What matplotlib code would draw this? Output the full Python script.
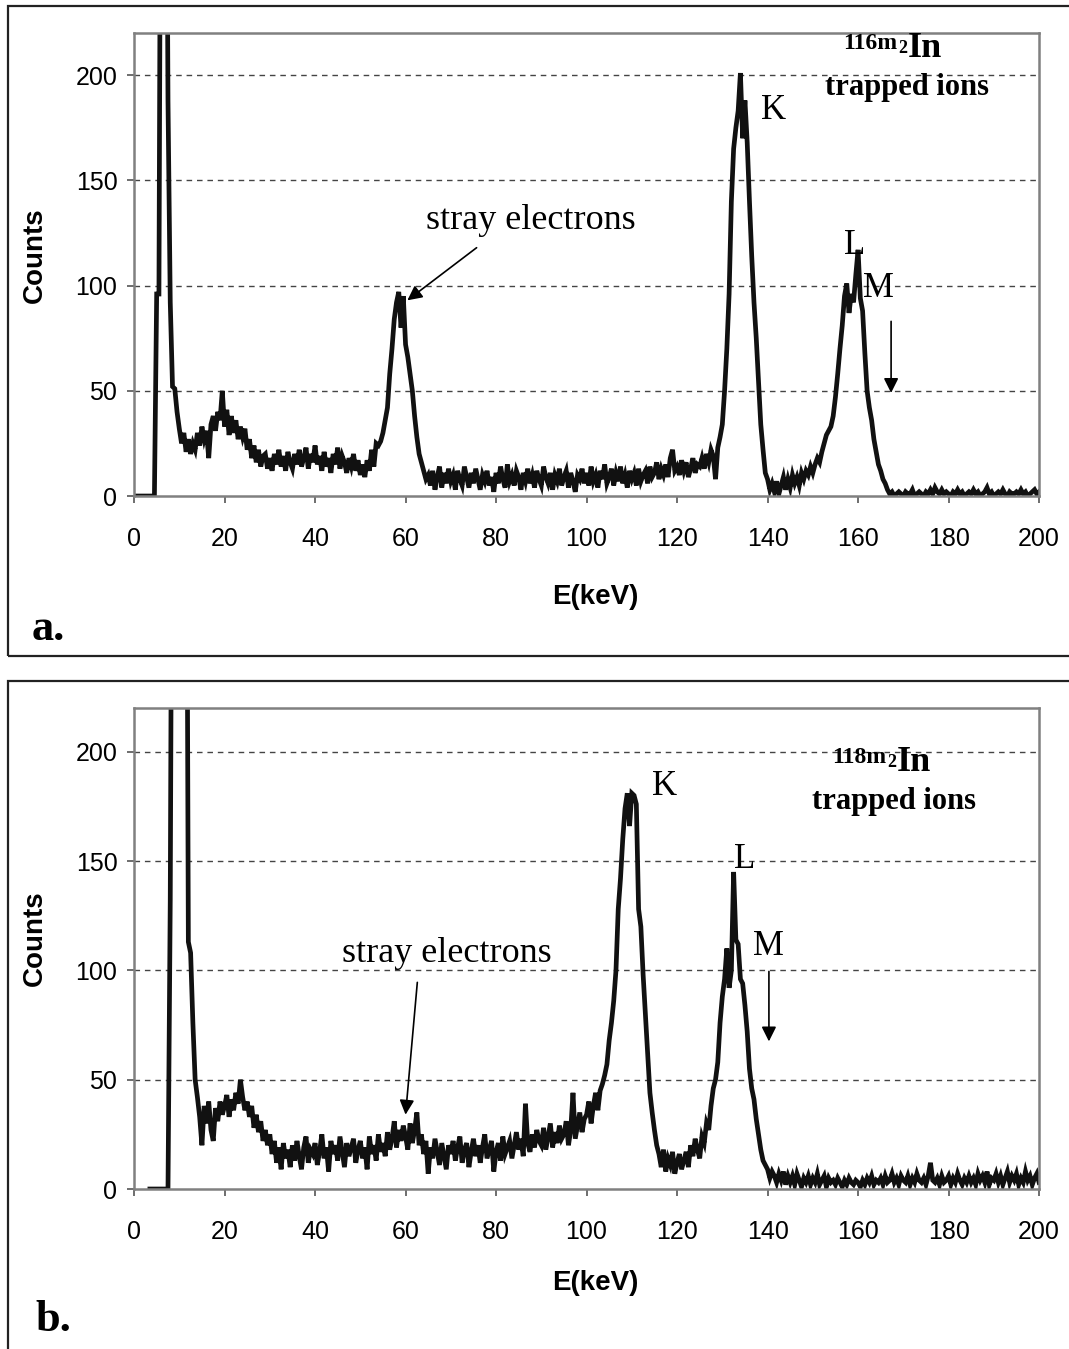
import numpy as np
import matplotlib.pyplot as plt
from matplotlib.patches import Rectangle

plt.rcParams['font.family'] = ['Liberation Sans', 'DejaVu Sans']
SERIF = ['Liberation Serif', 'DejaVu Serif']

# --- data (counts per 0.5 keV step) ---
E_a = np.arange(0, 200.25, 0.5)
counts_a = [
    0, 0, 0, 0, 0, 0, 0, 0, 0, 0,
    96, 96, 400, 400, 400, 188, 92, 52, 51, 40,
    32, 25, 30, 21, 27, 20, 25, 22, 30, 24,
    33, 27, 31, 18, 34, 38, 31, 40, 36, 50,
    33, 41, 29, 38, 30, 36, 27, 33, 28, 32,
    22, 27, 18, 24, 16, 22, 14, 19, 20, 13,
    18, 12, 20, 15, 22, 14, 19, 12, 21, 16,
    13, 20, 15, 22, 14, 18, 23, 13, 20, 16,
    24, 15, 19, 12, 21, 14, 18, 11, 20, 15,
    23, 13, 19, 16, 11, 18, 14, 20, 12, 17,
    10, 15, 9, 17, 12, 22, 14, 25, 24, 26,
    30, 36, 42, 58, 70, 84, 92, 97, 80, 95,
    72, 66, 58, 50, 38, 28, 20, 16, 12, 8,
    10, 5, 12, 3, 9, 14, 4, 11, 6, 13,
    7, 10, 3, 12, 8, 5, 14, 9, 4, 11,
    6, 13, 8, 3, 10, 7, 12, 5, 9, 2,
    11, 6, 14, 8, 4, 15, 7, 10, 5, 12,
    9, 3, 11, 7, 13, 6, 10, 4, 12, 8,
    5, 14, 9, 6, 11, 3, 10, 7, 13, 5,
    9, 12, 4, 11, 7, 2, 10, 8, 13, 6,
    11, 5, 14, 7, 10, 4, 12, 8, 15, 6,
    9, 13, 5, 11, 7, 14, 6, 10, 4, 12,
    8, 11, 5, 13, 7, 10, 12, 6, 14, 9,
    11, 16, 8, 13, 10, 15, 9, 18, 22, 12,
    14, 10, 17, 12, 16, 9, 13, 18, 11, 15,
    14, 18, 13, 20, 16, 22, 19, 8, 23, 28,
    34, 50, 70, 96, 140, 165, 175, 183, 201, 170,
    188, 168, 140, 114, 92, 75, 54, 34, 22, 11,
    8, 3, 6, 2, 7, 1, 5, 9, 3, 8,
    4, 10, 6, 9, 5, 11, 8, 12, 10, 14,
    11, 15, 18, 16, 21, 25, 29, 31, 33, 38,
    47, 58, 70, 81, 95, 101, 87, 96, 92, 105,
    117, 94, 88, 68, 50, 42, 36, 27, 21, 15,
    12, 8, 6, 3, 1, 2, 0, 1, 2, 1,
    0, 2, 1, 1, 3, 0, 1, 2, 1, 0,
    2, 1, 3, 1, 4, 2, 1, 3, 1, 2,
    1, 0, 2, 1, 3, 1, 2, 0, 1, 2,
    1, 3, 1, 2, 0, 1, 2, 4, 1, 2,
    0, 1, 2, 1, 3, 1, 0, 2, 1, 1,
    2, 1, 3, 1, 2, 0, 1, 2, 3, 1,
    2,
]

E_b = np.arange(3.5, 200.25, 0.5)
counts_b = [
    0, 0, 0,
    0, 0, 0, 0, 0, 0, 132, 400, 400, 400,
    400, 400, 400, 400, 113, 108, 76, 50, 42, 33,
    20, 38, 30, 40, 27, 22, 37, 31, 40, 34,
    38, 43, 33, 41, 36, 44, 39, 50, 42, 36,
    40, 33, 38, 28, 34, 26, 31, 22, 27, 20,
    25, 16, 22, 12, 19, 9, 21, 14, 18, 10,
    20, 13, 22, 15, 9, 19, 24, 12, 18, 16,
    21, 11, 17, 25, 14, 19, 8, 22, 16, 20,
    13, 24, 17, 10, 21, 15, 19, 23, 12, 18,
    22, 14, 19, 9, 24, 16, 20, 13, 25, 17,
    21, 15, 26, 18, 23, 31, 19, 27, 22, 29,
    24, 18, 30, 21, 27, 35, 20, 25, 16, 22,
    7, 19, 14, 23, 17, 11, 21, 15, 9, 20,
    16, 22, 13, 19, 24, 12, 18, 21, 10, 17,
    23, 15, 20, 12, 19, 25, 14, 18, 22, 8,
    17, 21, 13, 24, 16, 19, 22, 14, 20, 26,
    18, 23, 15, 39, 21, 17, 25, 19, 27, 22,
    20, 28, 18, 24, 30, 19, 26, 21, 29, 23,
    25, 31, 20, 27, 44, 23, 29, 35, 26, 32,
    34, 40, 30, 38, 44, 36, 45, 48, 52, 57,
    68, 76, 86, 100, 128, 142, 160, 174, 181, 166,
    181, 180, 176, 128, 120, 98, 80, 62, 44, 35,
    27, 20, 16, 10, 18, 8, 14, 11, 17, 7,
    12, 16, 9, 13, 17, 10, 20, 15, 23, 18,
    14, 24, 21, 30, 27, 38, 46, 50, 58, 76,
    88, 96, 110, 92, 100, 145, 114, 112, 96, 94,
    84, 72, 55, 46, 41, 32, 25, 18, 13, 11,
    9, 5, 8, 6, 3, 7, 4, 8, 2, 6,
    3, 6, 2, 7, 4, 1, 5, 3, 6, 2,
    5, 3, 7, 2, 4, 6, 1, 5, 3, 4,
    2, 5, 3, 1, 4, 2, 5, 3, 2, 4,
    3, 1, 4, 2, 5, 3, 6, 2, 4, 3,
    5, 2, 6, 3, 4, 7, 3, 5, 2, 6,
    4, 3, 6, 2, 5, 3, 7, 4, 3, 5,
    2, 6, 12, 4, 3, 5, 2, 6, 3, 4,
    6, 2, 5, 3, 7, 4, 2, 5, 3, 6,
    3, 5, 2, 7, 4, 6, 3, 8, 2, 5,
    4, 7, 3, 6, 2, 5, 8, 3, 6, 4,
    7, 2, 5, 3, 8, 4, 6, 2, 5, 7,
    3,
]

x_ticks = list(range(0, 201, 20))
y_ticks = [0, 50, 100, 150, 200]

fig = plt.figure(figsize=(10.69, 13.49), dpi=100)

# outer frames around each panel
for y0, h in [(0.5134, 0.4822), (-0.05, 0.5452)]:
    fig.patches.append(Rectangle((0.0075, y0), 1.05, h, transform=fig.transFigure,
                                 fill=False, edgecolor='#222222', lw=1.6))

ax_a = fig.add_axes([0.1254, 0.6323, 0.8466, 0.3432])
ax_b = fig.add_axes([0.1254, 0.1186, 0.8466, 0.3566])

for ax, E, counts in [(ax_a, E_a, counts_a), (ax_b, E_b, counts_b)]:
    ax.plot(E, counts, color='#111111', lw=3.4, solid_joinstyle='miter')
    ax.set_xlim(0, 200)
    ax.set_ylim(0, 220)
    ax.set_xticks(x_ticks)
    ax.set_yticks(y_ticks)
    ax.tick_params(labelsize=18, direction='out', length=5, width=1.2,
                   color='#555555', pad=7)
    ax.tick_params(axis='x', pad=17)
    for s in ax.spines.values():
        s.set_color('#808080')
        s.set_linewidth(1.8)
    for y in y_ticks[1:]:
        ax.axhline(y, color='#444444', lw=1.0, dashes=(4, 3.5), zorder=0)

arrow = dict(arrowstyle='-|>', color='black', lw=1.2, mutation_scale=22,
             shrinkA=0, shrinkB=0)
lab = dict(fontfamily=SERIF, fontsize=25, ha='left', va='baseline')
big = dict(fontfamily=SERIF, fontweight='bold', va='baseline')

# panel a annotations
ax_a.text(87.6, 127, 'stray electrons', fontfamily=SERIF, fontsize=26,
          ha='center', va='baseline')
ax_a.annotate('', xy=(60.4, 93), xytext=(75.7, 118), arrowprops=arrow)
ax_a.text(138.5, 179, 'K', **lab)
ax_a.text(157.0, 115, 'L', **lab)
ax_a.text(161.0, 94.5, 'M', **lab)
ax_a.annotate('', xy=(167.3, 49), xytext=(167.3, 83), arrowprops=arrow)
ax_a.text(171.0, 208.5, 'In', fontsize=26, ha='left', **big)
ax_a.text(170.9, 210.5, '2', fontsize=13, ha='right', **big)
ax_a.text(168.6, 212.5, '116m', fontsize=17, ha='right', **big)
ax_a.text(170.8, 190.5, 'trapped ions', fontsize=22, ha='center', **big)

# panel b annotations
ax_b.text(69.1, 103.7, 'stray electrons', fontfamily=SERIF, fontsize=26,
          ha='center', va='baseline')
ax_b.annotate('', xy=(60.0, 34), xytext=(62.6, 94.5), arrowprops=arrow)
ax_b.text(114.5, 180, 'K', **lab)
ax_b.text(132.5, 147, 'L', **lab)
ax_b.text(136.7, 107, 'M', **lab)
ax_b.annotate('', xy=(140.3, 67.5), xytext=(140.3, 99.5), arrowprops=arrow)
ax_b.text(168.6, 191, 'In', fontsize=26, ha='left', **big)
ax_b.text(168.5, 193, '2', fontsize=13, ha='right', **big)
ax_b.text(166.2, 195, '118m', fontsize=17, ha='right', **big)
ax_b.text(167.9, 174, 'trapped ions', fontsize=22, ha='center', **big)

for yc, yx in [(0.811, 0.5574), (0.3047, 0.0489)]:
    fig.text(0.0327, yc, 'Counts', fontsize=20, fontweight='bold',
             rotation=90, ha='center', va='center')
    fig.text(0.5566, yx, 'E(keV)', fontsize=20, fontweight='bold',
             ha='center', va='center')

fig.text(0.030, 0.5256, 'a.', fontfamily=SERIF, fontsize=32,
         fontweight='bold', va='baseline')
fig.text(0.033, 0.0133, 'b.', fontfamily=SERIF, fontsize=32,
         fontweight='bold', va='baseline')

fig.savefig('out.png', dpi=100, facecolor='white')
